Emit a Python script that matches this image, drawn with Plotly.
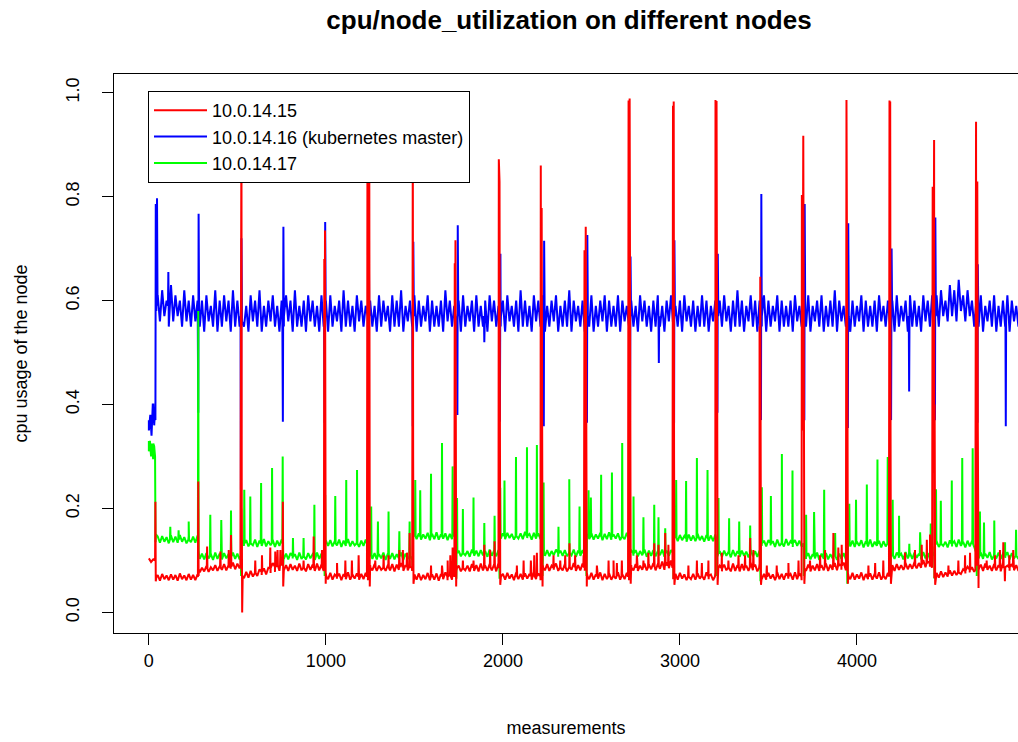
import plotly.graph_objects as go

# ---------------- data ----------------
# the noisy band of each series is read as its upper edge (at grid positions)
# and its lower edge (at the positions half-way between them)
measurement_grid = list(range(0, 4951, 25))            # 199 positions
measurement_mid = [12.5 + 25 * k for k in range(198)]   # 198 positions in between

red_upper = [
    0.104, 0.102,
    0.072, 0.074, 0.071, 0.073, 0.072, 0.075, 0.071, 0.074, 0.072, 0.073,
    0.086, 0.089, 0.087, 0.091, 0.089, 0.093, 0.091, 0.096, 0.094,
    0.077, 0.078, 0.080, 0.081, 0.083, 0.085, 0.086, 0.095, 0.090, 0.100,
    0.091, 0.093, 0.090, 0.094, 0.091, 0.093, 0.092, 0.094, 0.092,
    0.074, 0.076, 0.073, 0.075, 0.074, 0.077, 0.073, 0.075, 0.074, 0.076,
    0.091, 0.093, 0.090, 0.094, 0.091, 0.093, 0.092, 0.095, 0.091, 0.094,
    0.073, 0.075, 0.072, 0.076, 0.073, 0.075, 0.074, 0.077, 0.073, 0.076,
    0.090, 0.092, 0.090, 0.093, 0.091, 0.094, 0.090, 0.093, 0.092, 0.095,
    0.074, 0.076, 0.073, 0.077, 0.074, 0.075, 0.074, 0.077, 0.075,
    0.091, 0.093, 0.090, 0.094, 0.091, 0.093, 0.092, 0.095, 0.091, 0.094,
    0.074, 0.076, 0.073, 0.077, 0.074, 0.075, 0.074, 0.077, 0.073, 0.076,
    0.091, 0.093, 0.090, 0.094, 0.092, 0.095, 0.093, 0.098, 0.094, 0.100,
    0.074, 0.076, 0.073, 0.077, 0.074, 0.075, 0.074, 0.077, 0.073, 0.076,
    0.090, 0.092, 0.090, 0.094, 0.091, 0.093, 0.090, 0.095, 0.092, 0.094,
    0.074, 0.076, 0.073, 0.077, 0.074, 0.075, 0.074, 0.077, 0.075,
    0.090, 0.092, 0.090, 0.093, 0.091, 0.094, 0.092, 0.095, 0.093, 0.096,
    0.074, 0.076, 0.073, 0.077, 0.074, 0.075, 0.074, 0.077, 0.073, 0.076,
    0.091, 0.093, 0.091, 0.095, 0.093, 0.097, 0.095, 0.101, 0.098, 0.105,
    0.076, 0.079, 0.077, 0.081, 0.080, 0.084, 0.083, 0.088, 0.087,
    0.090, 0.092, 0.094, 0.090, 0.093, 0.091, 0.095, 0.090, 0.093, 0.091, 0.094, 0.091,
]
red_lower = [
    0.097,
    0.063, 0.061, 0.064, 0.062, 0.063, 0.061, 0.064, 0.062, 0.063, 0.062,
    0.077, 0.079, 0.078, 0.081, 0.080, 0.082, 0.081, 0.084, 0.083, 0.085,
    0.066, 0.067, 0.069, 0.070, 0.072, 0.073, 0.076, 0.078, 0.080,
    0.081, 0.080, 0.082, 0.080, 0.081, 0.079, 0.082, 0.080, 0.081, 0.080,
    0.064, 0.063, 0.065, 0.062, 0.064, 0.063, 0.065, 0.063, 0.064, 0.062,
    0.081, 0.080, 0.082, 0.080, 0.081, 0.079, 0.082, 0.080, 0.081, 0.080,
    0.063, 0.062, 0.064, 0.062, 0.063, 0.061, 0.064, 0.062, 0.063,
    0.080, 0.079, 0.081, 0.079, 0.080, 0.079, 0.081, 0.080, 0.081, 0.079,
    0.064, 0.063, 0.065, 0.062, 0.064, 0.063, 0.065, 0.063, 0.064, 0.062,
    0.081, 0.080, 0.082, 0.080, 0.081, 0.079, 0.082, 0.080, 0.081, 0.080,
    0.064, 0.063, 0.065, 0.062, 0.064, 0.063, 0.065, 0.063, 0.064, 0.062,
    0.081, 0.080, 0.082, 0.081, 0.083, 0.081, 0.084, 0.082, 0.085,
    0.064, 0.063, 0.065, 0.062, 0.064, 0.063, 0.065, 0.063, 0.064, 0.062,
    0.080, 0.079, 0.081, 0.079, 0.080, 0.079, 0.081, 0.080, 0.081, 0.079,
    0.064, 0.063, 0.065, 0.062, 0.064, 0.063, 0.065, 0.063, 0.064, 0.062,
    0.080, 0.079, 0.081, 0.080, 0.081, 0.080, 0.082, 0.081, 0.082, 0.081,
    0.064, 0.063, 0.065, 0.062, 0.064, 0.063, 0.065, 0.063, 0.064,
    0.081, 0.080, 0.082, 0.082, 0.083, 0.084, 0.085, 0.086, 0.087, 0.088,
    0.066, 0.067, 0.068, 0.069, 0.071, 0.072, 0.074, 0.075, 0.077, 0.078,
    0.081, 0.080, 0.082, 0.080, 0.081, 0.079, 0.082, 0.080, 0.081, 0.080, 0.081,
]

blue_upper = [
    0.37, 0.40,
    0.61, 0.62, 0.60, 0.63, 0.61, 0.60, 0.62, 0.60, 0.61, 0.60,
    0.60, 0.61, 0.59, 0.62, 0.60, 0.61, 0.60, 0.62, 0.60,
    0.60, 0.59, 0.61, 0.60, 0.62, 0.59, 0.60, 0.61, 0.59, 0.60,
    0.61, 0.60, 0.62, 0.59, 0.60, 0.61, 0.60, 0.59, 0.61,
    0.60, 0.61, 0.59, 0.60, 0.62, 0.60, 0.59, 0.61, 0.60, 0.59,
    0.60, 0.59, 0.61, 0.60, 0.59, 0.61, 0.60, 0.62, 0.59, 0.60,
    0.61, 0.60, 0.59, 0.61, 0.60, 0.59, 0.60, 0.62, 0.60, 0.59,
    0.60, 0.61, 0.59, 0.60, 0.61, 0.59, 0.60, 0.61, 0.60, 0.59,
    0.60, 0.61, 0.59, 0.60, 0.62, 0.60, 0.59, 0.61, 0.60,
    0.61, 0.59, 0.60, 0.61, 0.59, 0.60, 0.62, 0.60, 0.59, 0.60,
    0.60, 0.61, 0.59, 0.60, 0.61, 0.60, 0.59, 0.61, 0.60, 0.59,
    0.60, 0.59, 0.61, 0.60, 0.59, 0.60, 0.61, 0.59, 0.60, 0.61,
    0.59, 0.60, 0.61, 0.59, 0.60, 0.59, 0.61, 0.60, 0.59, 0.60,
    0.60, 0.61, 0.59, 0.60, 0.62, 0.60, 0.59, 0.61, 0.60, 0.60,
    0.61, 0.60, 0.59, 0.61, 0.60, 0.59, 0.60, 0.61, 0.59,
    0.60, 0.61, 0.59, 0.60, 0.61, 0.59, 0.60, 0.62, 0.60, 0.59,
    0.61, 0.60, 0.59, 0.61, 0.60, 0.59, 0.60, 0.61, 0.59, 0.60,
    0.60, 0.61, 0.59, 0.60, 0.61, 0.60, 0.59, 0.61, 0.60, 0.61,
    0.61, 0.62, 0.60, 0.63, 0.62, 0.64, 0.61, 0.62, 0.60,
    0.60, 0.61, 0.59, 0.60, 0.61, 0.59, 0.60, 0.61, 0.60, 0.59, 0.61, 0.60,
]
blue_lower = [
    0.34,
    0.57, 0.56, 0.57, 0.55, 0.56, 0.57, 0.55, 0.56, 0.55, 0.56,
    0.55, 0.54, 0.56, 0.55, 0.54, 0.55, 0.56, 0.54, 0.55, 0.55,
    0.55, 0.54, 0.56, 0.55, 0.54, 0.55, 0.56, 0.55, 0.54,
    0.55, 0.56, 0.54, 0.55, 0.55, 0.54, 0.56, 0.55, 0.54, 0.55,
    0.54, 0.55, 0.56, 0.54, 0.55, 0.55, 0.54, 0.56, 0.55, 0.54,
    0.55, 0.54, 0.55, 0.56, 0.54, 0.55, 0.55, 0.54, 0.56, 0.55,
    0.54, 0.55, 0.56, 0.54, 0.55, 0.55, 0.54, 0.56, 0.55,
    0.55, 0.54, 0.55, 0.56, 0.54, 0.55, 0.55, 0.54, 0.56, 0.55,
    0.55, 0.54, 0.56, 0.55, 0.54, 0.55, 0.55, 0.54, 0.56, 0.55,
    0.54, 0.55, 0.56, 0.54, 0.55, 0.55, 0.54, 0.56, 0.55, 0.54,
    0.55, 0.54, 0.55, 0.56, 0.54, 0.55, 0.55, 0.54, 0.56, 0.55,
    0.55, 0.54, 0.56, 0.55, 0.54, 0.55, 0.55, 0.54, 0.56,
    0.55, 0.55, 0.54, 0.56, 0.55, 0.54, 0.55, 0.55, 0.54, 0.56,
    0.54, 0.55, 0.56, 0.54, 0.55, 0.55, 0.54, 0.56, 0.55, 0.54,
    0.55, 0.54, 0.55, 0.56, 0.54, 0.55, 0.55, 0.54, 0.56, 0.55,
    0.55, 0.54, 0.56, 0.55, 0.54, 0.55, 0.55, 0.54, 0.56, 0.55,
    0.54, 0.55, 0.56, 0.54, 0.55, 0.55, 0.54, 0.56, 0.55,
    0.55, 0.54, 0.55, 0.56, 0.54, 0.55, 0.55, 0.54, 0.56, 0.55,
    0.56, 0.55, 0.57, 0.56, 0.57, 0.56, 0.58, 0.56, 0.57, 0.55,
    0.55, 0.54, 0.56, 0.55, 0.54, 0.55, 0.55, 0.54, 0.56, 0.55, 0.54,
]

green_upper = [
    0.33, 0.325,
    0.146, 0.147, 0.145, 0.148, 0.146, 0.149, 0.145, 0.147, 0.146, 0.148,
    0.113, 0.114, 0.112, 0.115, 0.113, 0.114, 0.112, 0.115, 0.113,
    0.138, 0.139, 0.137, 0.140, 0.138, 0.141, 0.137, 0.139, 0.138, 0.140,
    0.113, 0.114, 0.112, 0.115, 0.113, 0.114, 0.112, 0.115, 0.113,
    0.138, 0.139, 0.137, 0.140, 0.138, 0.141, 0.137, 0.139, 0.138, 0.140,
    0.113, 0.114, 0.112, 0.115, 0.113, 0.114, 0.112, 0.115, 0.113, 0.114,
    0.151, 0.152, 0.150, 0.153, 0.151, 0.154, 0.150, 0.152, 0.151, 0.153,
    0.119, 0.120, 0.118, 0.121, 0.119, 0.120, 0.118, 0.121, 0.119, 0.120,
    0.152, 0.153, 0.151, 0.154, 0.152, 0.155, 0.151, 0.153, 0.152,
    0.119, 0.120, 0.118, 0.121, 0.119, 0.120, 0.118, 0.121, 0.119, 0.120,
    0.151, 0.152, 0.150, 0.153, 0.151, 0.154, 0.150, 0.152, 0.151, 0.153,
    0.119, 0.120, 0.118, 0.121, 0.119, 0.120, 0.118, 0.121, 0.119, 0.120,
    0.148, 0.149, 0.147, 0.150, 0.148, 0.151, 0.147, 0.149, 0.148, 0.150,
    0.118, 0.119, 0.117, 0.120, 0.118, 0.119, 0.117, 0.120, 0.118, 0.119,
    0.138, 0.139, 0.137, 0.140, 0.138, 0.141, 0.137, 0.139, 0.138,
    0.113, 0.114, 0.112, 0.115, 0.113, 0.114, 0.112, 0.115, 0.113, 0.114,
    0.137, 0.138, 0.136, 0.139, 0.137, 0.140, 0.136, 0.138, 0.137, 0.139,
    0.114, 0.115, 0.113, 0.116, 0.114, 0.115, 0.113, 0.116, 0.114, 0.115,
    0.137, 0.138, 0.136, 0.139, 0.137, 0.140, 0.136, 0.138, 0.137,
    0.114, 0.115, 0.113, 0.116, 0.114, 0.115, 0.113, 0.116, 0.114, 0.115, 0.113, 0.115,
]
green_lower = [
    0.30,
    0.135, 0.134, 0.136, 0.133, 0.135, 0.134, 0.136, 0.133, 0.135, 0.134,
    0.103, 0.102, 0.104, 0.101, 0.103, 0.102, 0.104, 0.101, 0.103, 0.102,
    0.128, 0.127, 0.129, 0.126, 0.128, 0.127, 0.129, 0.126, 0.128,
    0.103, 0.102, 0.104, 0.101, 0.103, 0.102, 0.104, 0.101, 0.103, 0.102,
    0.128, 0.127, 0.129, 0.126, 0.128, 0.127, 0.129, 0.126, 0.128, 0.127,
    0.103, 0.102, 0.104, 0.101, 0.103, 0.102, 0.104, 0.101, 0.103, 0.102,
    0.141, 0.140, 0.142, 0.139, 0.141, 0.140, 0.142, 0.139, 0.141,
    0.109, 0.108, 0.110, 0.107, 0.109, 0.108, 0.110, 0.107, 0.109, 0.108,
    0.142, 0.141, 0.143, 0.140, 0.142, 0.141, 0.143, 0.140, 0.142, 0.141,
    0.109, 0.108, 0.110, 0.107, 0.109, 0.108, 0.110, 0.107, 0.109, 0.108,
    0.141, 0.140, 0.142, 0.139, 0.141, 0.140, 0.142, 0.139, 0.141, 0.140,
    0.109, 0.108, 0.110, 0.107, 0.109, 0.108, 0.110, 0.107, 0.109,
    0.138, 0.137, 0.139, 0.136, 0.138, 0.137, 0.139, 0.136, 0.138, 0.137,
    0.108, 0.107, 0.109, 0.106, 0.108, 0.107, 0.109, 0.106, 0.108, 0.107,
    0.128, 0.127, 0.129, 0.126, 0.128, 0.127, 0.129, 0.126, 0.128, 0.127,
    0.103, 0.102, 0.104, 0.101, 0.103, 0.102, 0.104, 0.101, 0.103, 0.102,
    0.127, 0.126, 0.128, 0.125, 0.127, 0.126, 0.128, 0.125, 0.127,
    0.104, 0.103, 0.105, 0.102, 0.104, 0.103, 0.105, 0.102, 0.104, 0.103,
    0.127, 0.126, 0.128, 0.125, 0.127, 0.126, 0.128, 0.125, 0.127, 0.126,
    0.104, 0.103, 0.105, 0.102, 0.104, 0.103, 0.105, 0.102, 0.104, 0.103, 0.104,
]

# large spikes (pod deployments) of 10.0.14.15
red_spike_x = [35, 37, 39, 42,
               277, 279, 281, 283,
               517, 519, 521, 523, 525, 527, 530,
               755, 757, 759, 762,
               989, 991, 993, 995, 997, 999, 1003,
               1232, 1235, 1238, 1241, 1245, 1248, 1252,
               1485, 1487, 1489, 1491, 1493, 1495, 1499,
               1726, 1728, 1730, 1732, 1734, 1736, 1740,
               1975, 1977, 1979, 1981, 1983, 1985, 1989,
               2212, 2214, 2216, 2219, 2221, 2224, 2228,
               2457, 2461, 2464, 2468, 2471, 2474, 2478,
               2707, 2710, 2713, 2716, 2719, 2722, 2726,
               2958, 2961, 2963, 2965, 2967, 2969, 2973,
               3198, 3201, 3204, 3207, 3210, 3213, 3217,
               3447, 3450, 3452, 3454, 3456, 3458, 3462,
               3686, 3689, 3692, 3697, 3700, 3703, 3707,
               3938, 3941, 3943, 3945, 3947, 3949, 3953,
               4181, 4184, 4186, 4188, 4190, 4192, 4196,
               4424, 4428, 4431, 4436, 4439, 4442, 4446,
               4669, 4673, 4676, 4680, 4683, 4687, 4691,
               4834, 4836, 4838]
red_spike_y = [0.100, 0.213, 0.060, 0.067,
               0.068, 0.252, 0.070, 0.082,
               0.088, 0.900, 0.400, 0.950, 0.200, 0.000, 0.070,
               0.090, 0.213, 0.050, 0.086,
               0.086, 0.680, 0.300, 0.735, 0.350, 0.055, 0.069,
               0.069, 0.920, 0.300, 0.400, 0.930, 0.050, 0.086,
               0.086, 0.880, 0.350, 0.920, 0.300, 0.055, 0.068,
               0.068, 0.672, 0.300, 0.716, 0.350, 0.050, 0.085,
               0.085, 0.872, 0.300, 0.829, 0.400, 0.053, 0.069,
               0.069, 0.860, 0.350, 0.778, 0.400, 0.050, 0.086,
               0.086, 0.697, 0.350, 0.742, 0.300, 0.050, 0.069,
               0.069, 0.985, 0.400, 0.989, 0.450, 0.055, 0.086,
               0.086, 0.975, 0.500, 0.983, 0.300, 0.053, 0.069,
               0.069, 0.986, 0.450, 0.984, 0.400, 0.053, 0.085,
               0.085, 0.550, 0.300, 0.646, 0.400, 0.053, 0.069,
               0.069, 0.803, 0.350, 0.917, 0.400, 0.055, 0.085,
               0.085, 0.986, 0.450, 0.985, 0.350, 0.055, 0.069,
               0.069, 0.985, 0.450, 0.983, 0.350, 0.055, 0.086,
               0.086, 0.819, 0.350, 0.909, 0.400, 0.053, 0.072,
               0.082, 0.944, 0.400, 0.829, 0.350, 0.047, 0.086,
               0.087, 0.060, 0.087]

# small blips of 10.0.14.15: position, peak, local baseline
red_blip_x = [329, 404, 451, 464,
              601, 639, 686, 714, 727, 743,
              874, 931, 978,
              1063, 1110, 1147, 1185,
              1279, 1326, 1354, 1415, 1435, 1458, 1473,
              1594, 1656, 1688, 1703, 1716,
              1774, 1834, 1895, 1928, 1953,
              2079, 2117, 2158, 2177, 2192,
              2286, 2324, 2352, 2376, 2408, 2456,
              2531, 2597, 2625, 2644, 2672,
              2757, 2794, 2822, 2855, 2879, 2917, 2935,
              3048, 3096, 3124, 3161,
              3237, 3274, 3331, 3368, 3397, 3415,
              3491, 3547, 3613, 3670,
              3735, 3792, 3820, 3867, 3895, 3914,
              4065, 4103, 4149,
              4272, 4328, 4366, 4395, 4413,
              4517, 4573, 4611, 4639,
              4733, 4780, 4808, 4827, 4861, 4883]
red_blip_peak = [0.127, 0.117, 0.120, 0.149,
                 0.100, 0.110, 0.125, 0.117, 0.120, 0.120,
                 0.100, 0.146, 0.120,
                 0.095, 0.100, 0.100, 0.110,
                 0.100, 0.110, 0.110, 0.120, 0.120, 0.115, 0.153,
                 0.090, 0.090, 0.100, 0.110, 0.125,
                 0.100, 0.100, 0.130, 0.120, 0.137,
                 0.090, 0.100, 0.100, 0.110, 0.115,
                 0.110, 0.100, 0.110, 0.133, 0.110, 0.110,
                 0.090, 0.100, 0.100, 0.095, 0.100,
                 0.110, 0.100, 0.115, 0.133, 0.130, 0.153, 0.130,
                 0.090, 0.100, 0.095, 0.100,
                 0.115, 0.100, 0.110, 0.110, 0.143, 0.120,
                 0.090, 0.090, 0.095, 0.100,
                 0.100, 0.110, 0.120, 0.153, 0.125, 0.130,
                 0.090, 0.095, 0.100,
                 0.115, 0.120, 0.130, 0.140, 0.150,
                 0.090, 0.100, 0.110, 0.115,
                 0.100, 0.110, 0.120, 0.135, 0.110, 0.120]
red_blip_base = [0.084, 0.086, 0.088, 0.088,
                 0.076, 0.078, 0.085, 0.088, 0.090, 0.090,
                 0.086, 0.086, 0.087,
                 0.069, 0.069, 0.069, 0.069,
                 0.086, 0.086, 0.086, 0.087, 0.087, 0.088, 0.088,
                 0.068, 0.069, 0.069, 0.070, 0.070,
                 0.085, 0.086, 0.086, 0.087, 0.088,
                 0.069, 0.069, 0.070, 0.070, 0.070,
                 0.086, 0.086, 0.087, 0.087, 0.087, 0.088,
                 0.069, 0.069, 0.070, 0.070, 0.070,
                 0.086, 0.087, 0.087, 0.088, 0.089, 0.090, 0.090,
                 0.069, 0.069, 0.070, 0.070,
                 0.085, 0.086, 0.086, 0.087, 0.087, 0.088,
                 0.069, 0.069, 0.070, 0.070,
                 0.085, 0.086, 0.087, 0.088, 0.089, 0.090,
                 0.069, 0.070, 0.070,
                 0.088, 0.090, 0.092, 0.094, 0.095,
                 0.074, 0.077, 0.080, 0.082,
                 0.086, 0.086, 0.087, 0.087, 0.087, 0.087]

# spikes and dips of 10.0.14.16 (kubernetes master)
blue_spike_x = [0, 8, 15, 22, 30, 35,
                37, 39, 42, 46, 49,
                108, 110, 112,
                276, 279, 281, 284,
                518, 520, 523, 526,
                754, 757, 760, 763,
                990, 993, 996, 999,
                1236, 1239, 1242, 1245,
                1488, 1491, 1494, 1497,
                1740, 1743, 1745, 1748,
                1893, 1895, 1897,
                1980, 1983, 1986, 1989,
                2228, 2231, 2233, 2236,
                2472, 2475, 2477, 2480,
                2715, 2718, 2721, 2724,
                2879, 2881, 2883,
                2964, 2967, 2969, 2972,
                3209, 3212, 3214, 3217,
                3455, 3458, 3460, 3463,
                3700, 3703, 3705, 3708,
                3946, 3949, 3951, 3954,
                4190, 4193, 4196, 4199,
                4293, 4295, 4297,
                4438, 4441, 4443, 4446,
                4678, 4681, 4683, 4686,
                4839, 4841, 4843]
blue_spike_y = [0.35, 0.38, 0.34, 0.40, 0.36, 0.39,
                0.37, 0.786, 0.58, 0.797, 0.59,
                0.59, 0.655, 0.58,
                0.58, 0.384, 0.767, 0.57,
                0.57, 0.236, 0.72, 0.56,
                0.57, 0.367, 0.742, 0.57,
                0.57, 0.365, 0.751, 0.57,
                0.57, 0.346, 0.753, 0.57,
                0.57, 0.358, 0.713, 0.57,
                0.57, 0.38, 0.745, 0.57,
                0.57, 0.52, 0.57,
                0.57, 0.367, 0.69, 0.57,
                0.57, 0.358, 0.715, 0.57,
                0.57, 0.365, 0.726, 0.57,
                0.57, 0.351, 0.685, 0.57,
                0.57, 0.48, 0.57,
                0.57, 0.365, 0.716, 0.57,
                0.57, 0.384, 0.69, 0.57,
                0.57, 0.37, 0.805, 0.57,
                0.57, 0.37, 0.786, 0.57,
                0.57, 0.355, 0.749, 0.57,
                0.57, 0.37, 0.70, 0.57,
                0.57, 0.425, 0.57,
                0.57, 0.37, 0.76, 0.57,
                0.57, 0.365, 0.67, 0.57,
                0.57, 0.358, 0.57]

# start level, drops and dips of 10.0.14.17
green_spike_x = [0, 6, 12, 18, 24, 30, 35, 38, 40,
                 277, 279, 281, 284,
                 519, 521, 523,
                 757, 759, 761,
                 991, 993, 995,
                 1238, 1240, 1242,
                 1488, 1490, 1492,
                 1735, 1737, 1739, 1741, 1743,
                 1979, 1981, 1983, 1985, 1987,
                 2222, 2224, 2226,
                 2470, 2472, 2474,
                 2714, 2716, 2718,
                 2962, 2964, 2966,
                 3205, 3207, 3209,
                 3453, 3455, 3457,
                 3698, 3700, 3702,
                 3944, 3946, 3948,
                 4187, 4189, 4191,
                 4436, 4438, 4440,
                 4675, 4677, 4679, 4680, 4682]
green_spike_y = [0.31, 0.33, 0.30, 0.325, 0.295, 0.32, 0.30, 0.226, 0.15,
                 0.138, 0.58, 0.12, 0.108,
                 0.108, 0.070, 0.133,
                 0.133, 0.090, 0.108,
                 0.108, 0.070, 0.133,
                 0.133, 0.080, 0.108,
                 0.108, 0.080, 0.146,
                 0.146, 0.065, 0.114, 0.220, 0.114,
                 0.114, 0.065, 0.147, 0.240, 0.147,
                 0.147, 0.070, 0.114,
                 0.114, 0.070, 0.146,
                 0.146, 0.065, 0.114,
                 0.114, 0.065, 0.143,
                 0.143, 0.070, 0.113,
                 0.113, 0.060, 0.133,
                 0.133, 0.070, 0.108,
                 0.108, 0.055, 0.132,
                 0.132, 0.070, 0.109,
                 0.109, 0.065, 0.132,
                 0.132, 0.070, 0.109, 0.220, 0.109]

# periodic blips of 10.0.14.17: position, peak, local baseline
green_blip_x = [121, 168, 225,
                347, 409, 464,
                539, 573, 634, 696, 756,
                814, 874, 935,
                996, 1053, 1115, 1176,
                1256, 1294, 1354, 1415, 1473,
                1505, 1533, 1594, 1656, 1716,
                1774, 1834, 1895, 1953,
                2009, 2074, 2136, 2192,
                2230, 2314, 2375, 2433,
                2484, 2497, 2555, 2616, 2674,
                2738, 2794, 2855, 2879, 2917,
                2979, 3035, 3096, 3156,
                3218, 3278, 3335, 3397,
                3463, 3514, 3576, 3636,
                3713, 3758, 3815, 3877,
                3957, 3995, 4056, 4116, 4174,
                4202, 4238, 4296, 4357, 4417,
                4447, 4474, 4536, 4595, 4654,
                4695, 4718, 4776, 4837, 4899]
green_blip_peak = [0.165, 0.158, 0.175,
                   0.188, 0.178, 0.196,
                   0.236, 0.223, 0.249, 0.278, 0.300,
                   0.143, 0.143, 0.207,
                   0.226, 0.224, 0.255, 0.274,
                   0.204, 0.175, 0.194, 0.156, 0.175,
                   0.255, 0.235, 0.267, 0.326, 0.281,
                   0.199, 0.221, 0.172, 0.186,
                   0.254, 0.299, 0.318, 0.322,
                   0.250, 0.165, 0.256, 0.204,
                   0.235, 0.221, 0.265, 0.269, 0.326,
                   0.223, 0.183, 0.207, 0.183, 0.162,
                   0.255, 0.253, 0.297, 0.274,
                   0.220, 0.181, 0.175, 0.167,
                   0.241, 0.224, 0.305, 0.273,
                   0.188, 0.193, 0.236, 0.153,
                   0.209, 0.217, 0.246, 0.294, 0.299,
                   0.217, 0.186, 0.132, 0.154, 0.171,
                   0.237, 0.215, 0.254, 0.297, 0.316,
                   0.194, 0.173, 0.177, 0.135, 0.159]
green_blip_base = [0.140, 0.140, 0.140,
                   0.108, 0.108, 0.108,
                   0.133, 0.133, 0.133, 0.133, 0.133,
                   0.108, 0.108, 0.108,
                   0.133, 0.133, 0.133, 0.133,
                   0.108, 0.108, 0.108, 0.108, 0.108,
                   0.146, 0.146, 0.146, 0.146, 0.146,
                   0.114, 0.114, 0.114, 0.114,
                   0.147, 0.147, 0.147, 0.147,
                   0.114, 0.114, 0.114, 0.114,
                   0.146, 0.146, 0.146, 0.146, 0.146,
                   0.114, 0.114, 0.114, 0.114, 0.114,
                   0.143, 0.143, 0.143, 0.143,
                   0.113, 0.113, 0.113, 0.113,
                   0.133, 0.133, 0.133, 0.133,
                   0.108, 0.108, 0.108, 0.108,
                   0.132, 0.132, 0.132, 0.132, 0.132,
                   0.109, 0.109, 0.109, 0.109, 0.109,
                   0.132, 0.132, 0.132, 0.132, 0.132,
                   0.109, 0.109, 0.109, 0.109, 0.109]

series_names = ["10.0.14.15", "10.0.14.16 (kubernetes master)", "10.0.14.17"]
series_colors = ["#FF0000", "#0000FF", "#00FF00"]
x_tick_values = [0, 1000, 2000, 3000, 4000]
y_tick_values = [0.0, 0.2, 0.4, 0.6, 0.8, 1.0]
y_tick_labels = ["0.0", "0.2", "0.4", "0.6", "0.8", "1.0"]

for arr in (red_upper, blue_upper, green_upper):
    assert len(arr) == len(measurement_grid), len(arr)
for arr in (red_lower, blue_lower, green_lower):
    assert len(arr) == len(measurement_mid), len(arr)
assert len(red_spike_x) == len(red_spike_y)
assert len(blue_spike_x) == len(blue_spike_y)
assert len(green_spike_x) == len(green_spike_y)
assert len(red_blip_x) == len(red_blip_peak) == len(red_blip_base)
assert len(green_blip_x) == len(green_blip_peak) == len(green_blip_base)


def expand_blips(xs, peaks, bases):
    ex, ey = [], []
    for x, p, b in zip(xs, peaks, bases):
        ex += [x - 2, x, x + 2]
        ey += [b, p, b]
    return ex, ey


def assemble(*parts):
    pts = []
    for ex, ey in parts:
        pts += list(zip(ex, ey))
    pts.sort(key=lambda p: p[0])
    return [p[0] for p in pts], [p[1] for p in pts]


red_x, red_y = assemble((measurement_grid, red_upper), (measurement_mid, red_lower),
                        (red_spike_x, red_spike_y),
                        expand_blips(red_blip_x, red_blip_peak, red_blip_base))
blue_x, blue_y = assemble((measurement_grid, blue_upper), (measurement_mid, blue_lower),
                          (blue_spike_x, blue_spike_y))
green_x, green_y = assemble((measurement_grid, green_upper), (measurement_mid, green_lower),
                            (green_spike_x, green_spike_y),
                            expand_blips(green_blip_x, green_blip_peak, green_blip_base))

FONT = "Liberation Sans, Arial, Helvetica, sans-serif"
LW = 2

fig = go.Figure()
# drawing order: blue, green, red on top; legend order red, blue, green
fig.add_trace(go.Scatter(x=blue_x, y=blue_y, mode="lines", name=series_names[1],
                         line=dict(color=series_colors[1], width=LW), legendrank=2))
fig.add_trace(go.Scatter(x=green_x, y=green_y, mode="lines", name=series_names[2],
                         line=dict(color=series_colors[2], width=LW), legendrank=3))
fig.add_trace(go.Scatter(x=red_x, y=red_y, mode="lines", name=series_names[0],
                         line=dict(color=series_colors[0], width=LW), legendrank=1))

fig.update_layout(
    width=1018, height=742,
    margin=dict(l=114, r=0, t=74, b=109, autoexpand=False),
    paper_bgcolor="white", plot_bgcolor="white",
    font=dict(family=FONT, color="black", size=18),
    title=dict(text="<b>cpu/node_utilization on different nodes</b>",
               x=569 / 1018, xanchor="center", xref="container",
               y=1 - 20 / 742, yanchor="middle", yref="container",
               font=dict(size=26, family=FONT, color="black")),
    showlegend=True,
    legend=dict(x=(148 - 114) / 904, y=1 - (91 - 74) / 559.3,
                xanchor="left", yanchor="top",
                bgcolor="white", bordercolor="black", borderwidth=1,
                font=dict(size=18, family=FONT, color="black"),
                tracegroupgap=0, itemwidth=53, traceorder="normal"),
)

fig.update_xaxes(range=[-197, 4910], tickvals=x_tick_values,
                 ticks="outside", ticklen=11, tickwidth=1, tickcolor="black",
                 showline=True, linecolor="black", linewidth=1, mirror=True,
                 showgrid=False, zeroline=False,
                 tickfont=dict(size=18, family=FONT),
                 title=dict(text="measurements", standoff=51,
                            font=dict(size=18, family=FONT)))
fig.update_yaxes(range=[-0.0396, 1.036], tickvals=y_tick_values, ticktext=y_tick_labels,
                 ticks="outside", ticklen=11, tickwidth=1, tickcolor="black",
                 showline=True, linecolor="black", linewidth=1, mirror=False,
                 showgrid=False, zeroline=False, tickangle=-90,
                 ticklabelstandoff=16,
                 tickfont=dict(size=18, family=FONT),
                 title=dict(text="cpu usage of the node", standoff=30,
                            font=dict(size=18, family=FONT)))

fig.write_html("out.html")
